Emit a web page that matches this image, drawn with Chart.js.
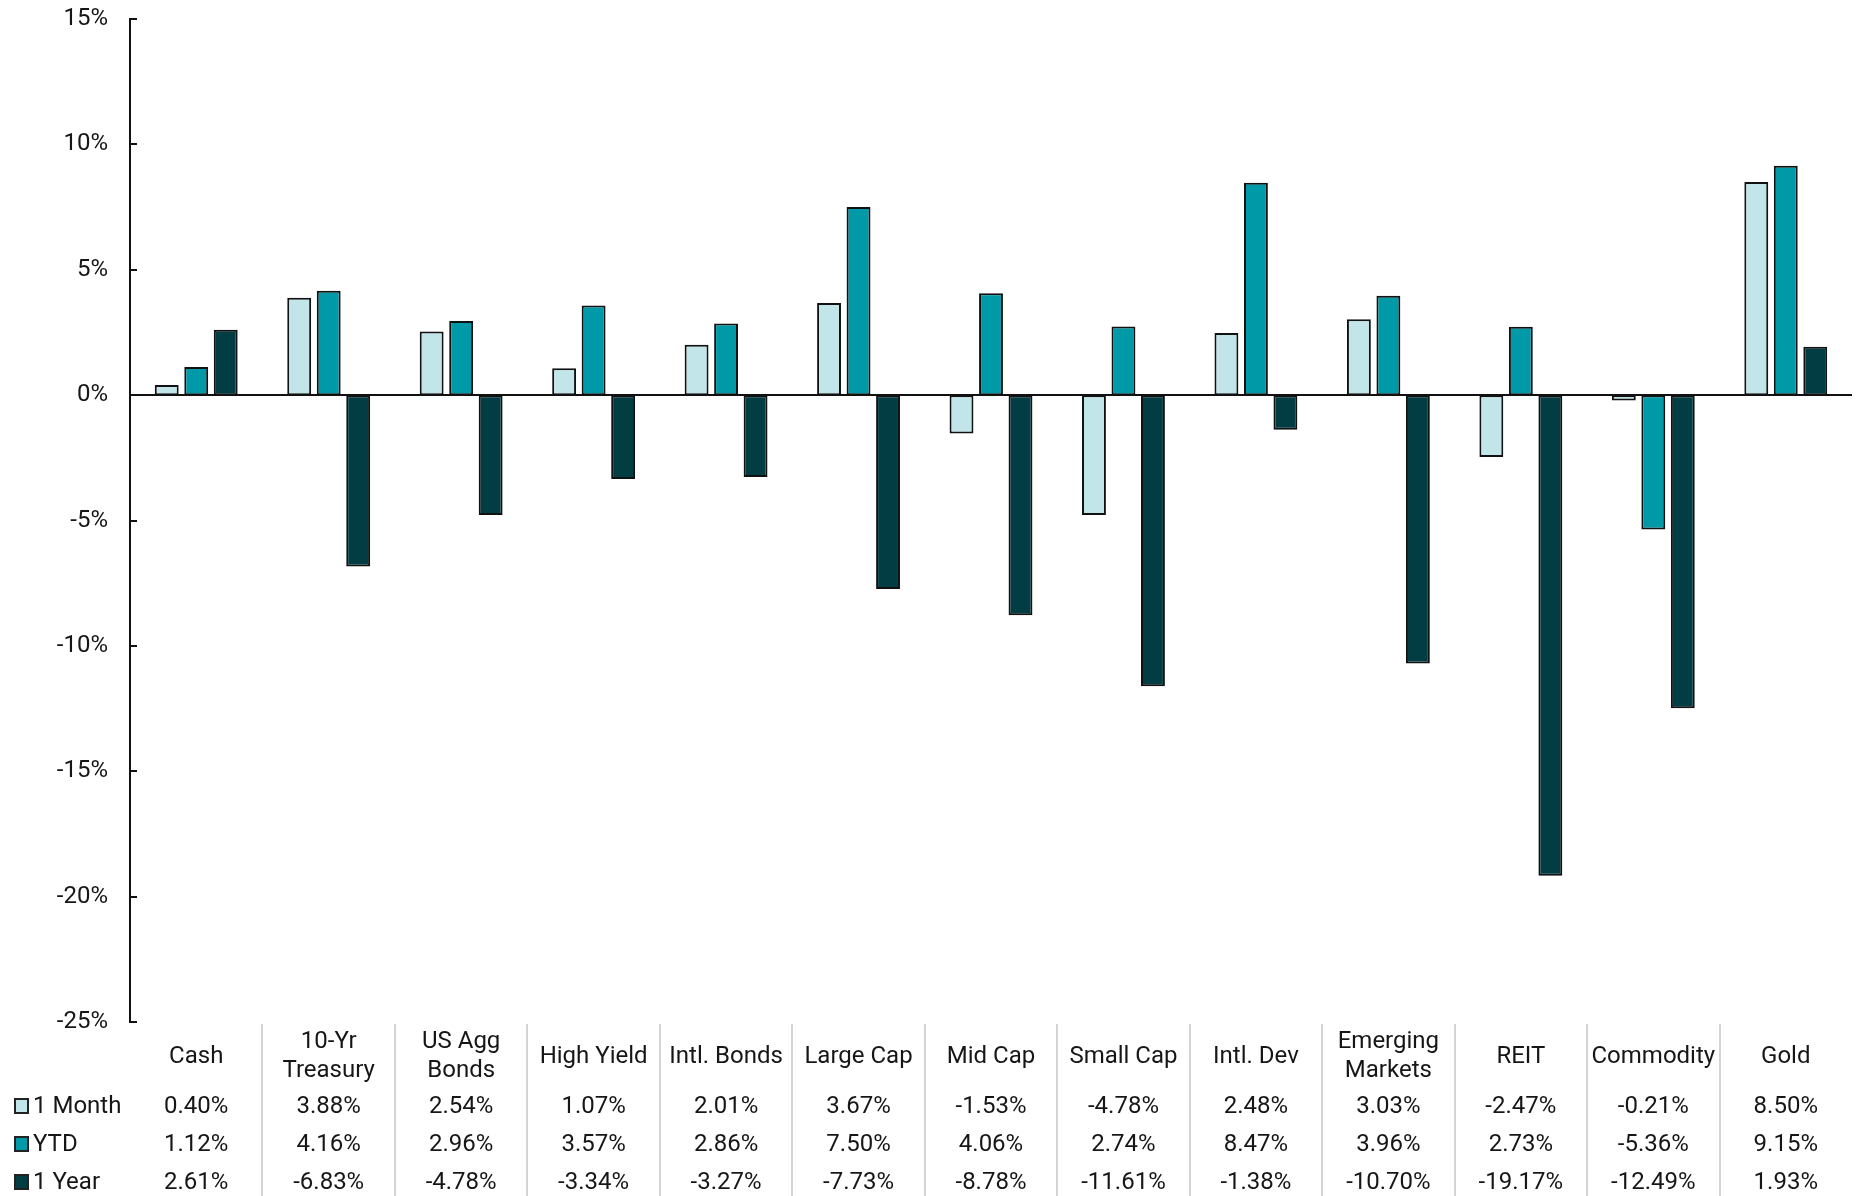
<!DOCTYPE html>
<html>
<head>
<meta charset="utf-8">
<title>Asset class returns</title>
<script src="https://cdn.jsdelivr.net/npm/chart.js@4.4.1/dist/chart.umd.min.js"></script>
<style>
    html, body { margin: 0; padding: 0; background: #fff; }
    #wrap { position: relative; width: 1856px; height: 1196px; }
</style>
</head>
<body>
<div id="wrap"><canvas id="grafica"></canvas></div>
<script>
var categorias = [
    'Cash', ['10-Yr', 'Treasury'], ['US Agg', 'Bonds'], 'High Yield', 'Intl. Bonds',
    'Large Cap', 'Mid Cap', 'Small Cap', 'Intl. Dev', ['Emerging', 'Markets'],
    'REIT', 'Commodity', 'Gold'
];
var series = ['1 Month', 'YTD', '1 Year'];
var unMes = [0.40, 3.88, 2.54, 1.07, 2.01, 3.67, -1.53, -4.78, 2.48, 3.03, -2.47, -0.21, 8.50];
var ytd = [1.12, 4.16, 2.96, 3.57, 2.86, 7.50, 4.06, 2.74, 8.47, 3.96, 2.73, -5.36, 9.15];
var unAnio = [2.61, -6.83, -4.78, -3.34, -3.27, -7.73, -8.78, -11.61, -1.38, -10.70, -19.17, -12.49, 1.93];
var colores = ['#C1E5E8', '#0099A8', '#023D44'];

var FUENTE = '24px Roboto, "Noto Sans", sans-serif';
var TEXTO = '#161616';

// ticks hacia dentro, linea del cero y la tabla de datos debajo del grafico
var tablaPlugin = {
    id: 'tablaDatos',
    afterDatasetsDraw: function(chart) {
        var ctx = chart.ctx;
        var area = chart.chartArea;
        var y = chart.scales.y;
        var y0 = Math.round(y.getPixelForValue(0));

        ctx.save();
        ctx.strokeStyle = '#111';
        ctx.lineWidth = 2;
        ctx.beginPath();
        ctx.moveTo(area.left, y0);
        ctx.lineTo(area.right, y0);
        ctx.stroke();

        y.ticks.forEach(function(t) {
            var py = Math.round(y.getPixelForValue(t.value));
            ctx.beginPath();
            ctx.moveTo(area.left, py);
            ctx.lineTo(area.left + 7, py);
            ctx.stroke();
        });
        ctx.restore();
    },
    afterDraw: function(chart) {
        var ctx = chart.ctx;
        var x = chart.scales.x;
        var paso = x.getPixelForValue(1) - x.getPixelForValue(0);
        var valores = [unMes, ytd, unAnio];
        var filasY = [1107, 1145, 1183];

        ctx.save();
        // separadores grises entre categorias
        ctx.strokeStyle = '#d4d4d4';
        ctx.lineWidth = 2;
        for (var i = 1; i < categorias.length; i++) {
            var sx = Math.round(x.getPixelForValue(i) - paso / 2);
            ctx.beginPath();
            ctx.moveTo(sx, 1024);
            ctx.lineTo(sx, 1196);
            ctx.stroke();
        }

        ctx.font = FUENTE;
        ctx.fillStyle = TEXTO;
        ctx.textAlign = 'center';
        ctx.textBaseline = 'middle';
        categorias.forEach(function(c, i) {
            var cx = x.getPixelForValue(i);
            if (Array.isArray(c)) {
                ctx.fillText(c[0], cx, 1042);
                ctx.fillText(c[1], cx, 1071);
            } else {
                ctx.fillText(c, cx, 1057);
            }
            valores.forEach(function(serie, s) {
                ctx.fillText(serie[i].toFixed(2) + '%', cx, filasY[s]);
            });
        });

        // leyenda a la izquierda de cada fila
        series.forEach(function(nombre, s) {
            var fy = filasY[s] - 1;
            ctx.fillStyle = colores[s];
            ctx.fillRect(15, fy - 7, 13, 14);
            ctx.strokeStyle = '#222';
            ctx.lineWidth = 2;
            ctx.strokeRect(15, fy - 7, 13, 14);
            ctx.fillStyle = TEXTO;
            ctx.textAlign = 'left';
            ctx.fillText(nombre, 33, fy + 1);
        });
        ctx.restore();
    }
};

function dataset(nombre, datos, color) {
    return {
        label: nombre,
        data: datos,
        backgroundColor: color,
        borderColor: '#111',
        borderWidth: 2,
        borderSkipped: false,
        categoryPercentage: 0.668,
        barPercentage: 0.81
    };
}

document.addEventListener('DOMContentLoaded', function() {
    var ctx = document.getElementById('grafica').getContext('2d');
    window.chartRetornos = new Chart(ctx, {
        type: 'bar',
        plugins: [tablaPlugin],
        data: {
            labels: categorias,
            datasets: [
                dataset(series[0], unMes, colores[0]),
                dataset(series[1], ytd, colores[1]),
                dataset(series[2], unAnio, colores[2])
            ]
        },
        options: {
            responsive: true,
            maintainAspectRatio: false,
            animation: false,
            layout: { padding: { left: 0, top: 19, right: 4, bottom: 174 } },
            plugins: {
                legend: { display: false },
                tooltip: { enabled: false }
            },
            scales: {
                x: {
                    display: false,
                    offset: true
                },
                y: {
                    min: -25,
                    max: 15,
                    afterFit: function(scale) {
                        scale.width = 130;
                        scale.paddingTop = 0;
                        scale.paddingBottom = 0;
                    },
                    grid: { display: false },
                    border: { display: true, color: '#111', width: 2 },
                    ticks: {
                        stepSize: 5,
                        padding: 14,
                        color: TEXTO,
                        font: { family: 'Roboto', size: 24 },
                        callback: function(v) { return v + '%'; }
                    }
                }
            }
        }
    });
});
</script>
</body>
</html>
